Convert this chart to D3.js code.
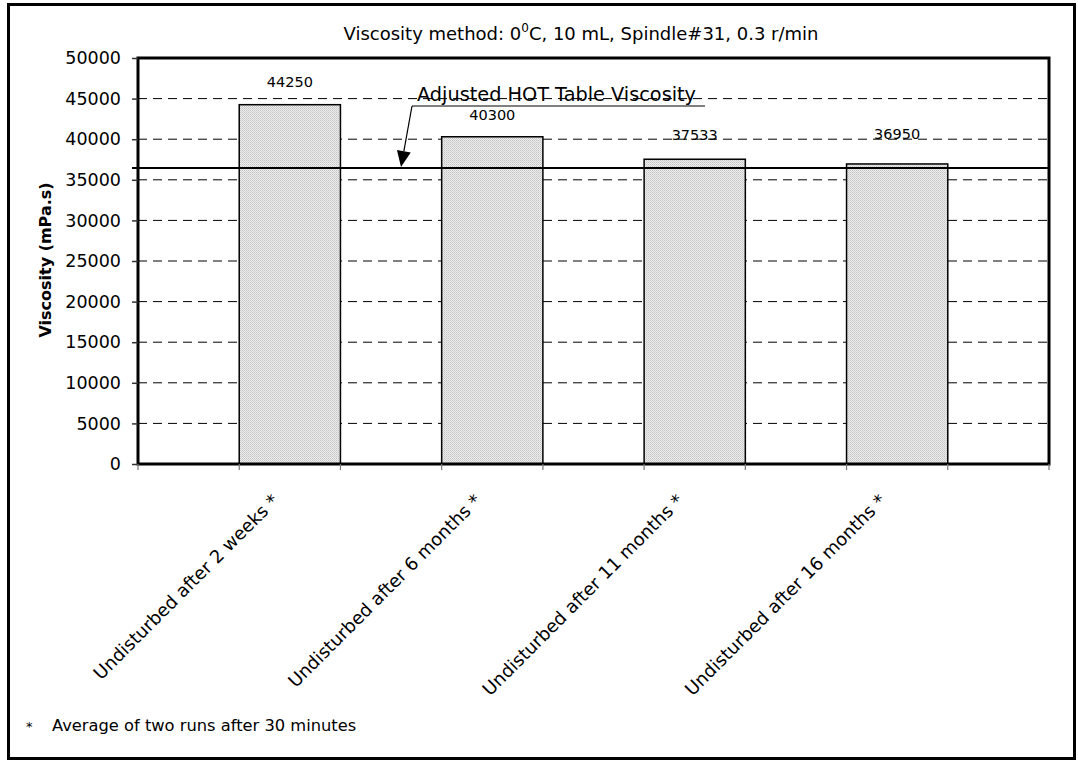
<!DOCTYPE html>
<html>
<head>
<meta charset="utf-8">
<script src="https://cdn.jsdelivr.net/npm/d3@7"></script>
<style>
  html, body { margin: 0; padding: 0; background: #fff; }
  svg { display: block; }
  text { font-family: "DejaVu Sans", Verdana, sans-serif; fill: #000; }
</style>
</head>
<body>
<svg id="chart" width="1078" height="761"></svg>
<script>
// ---- data ----
const categories = [
  "Undisturbed after 2 weeks *",
  "Undisturbed after 6 months *",
  "Undisturbed after 11 months *",
  "Undisturbed after 16 months *"
];
const values = [44250, 40300, 37533, 36950];
const referenceValue = 36450;
const referenceLabel = "Adjusted HOT Table Viscosity";
const yTicks = [0, 5000, 10000, 15000, 20000, 25000, 30000, 35000, 40000, 45000, 50000];
const yMax = 50000;
const yAxisTitle = "Viscosity (mPa.s)";
const footnote = "Average of two runs after 30 minutes";

// ---- layout ----
const W = 1078, H = 761;
const plot = { left: 138, top: 58, right: 1049, bottom: 464 };
const labelDy = [-18, -17, -19, -25];

const svg = d3.select("#chart");

// pattern for bars
const defs = svg.append("defs");
const pat = defs.append("pattern").attr("id", "dots")
  .attr("width", 2).attr("height", 2).attr("patternUnits", "userSpaceOnUse");
pat.append("rect").attr("width", 2).attr("height", 2).attr("fill", "#ececec");
pat.append("rect").attr("x", 0).attr("y", 0).attr("width", 1).attr("height", 1).attr("fill", "#c4c4c4");
pat.append("rect").attr("x", 1).attr("y", 1).attr("width", 1).attr("height", 1).attr("fill", "#d4d4d4");

// slots: blank spacer between each category (Excel-like layout)
const slots = [];
categories.forEach((c, i) => { slots.push("__gap" + i); slots.push(c); });
slots.push("__gap" + categories.length);

const x = d3.scaleBand().domain(slots).range([plot.left, plot.right]).padding(0);
const y = d3.scaleLinear().domain([0, yMax]).range([plot.bottom, plot.top]);

// outer border
svg.append("rect")
  .attr("x", 8.5).attr("y", 4.5).attr("width", 1066).attr("height", 754)
  .attr("fill", "none").attr("stroke", "#000").attr("stroke-width", 3);

// title
const title = svg.append("text")
  .attr("x", 581).attr("y", 40).attr("text-anchor", "middle")
  .style("font-size", "18px");
title.append("tspan").text("Viscosity method: 0");
title.append("tspan").attr("dy", -8).style("font-size", "12px").text("0");
title.append("tspan").attr("dy", 8).text("C, 10 mL, Spindle#31, 0.3 r/min");

// gridlines
svg.append("g")
  .selectAll("line")
  .data(yTicks.filter(t => t > 0 && t < yMax))
  .join("line")
  .attr("x1", plot.left).attr("x2", plot.right)
  .attr("y1", d => y(d)).attr("y2", d => y(d))
  .attr("stroke", "#000").attr("stroke-width", 1)
  .attr("stroke-dasharray", "9,6");

// bars
svg.append("g")
  .selectAll("rect")
  .data(values)
  .join("rect")
  .attr("x", (d, i) => x(categories[i]))
  .attr("y", d => y(d))
  .attr("width", x.bandwidth())
  .attr("height", d => y(0) - y(d))
  .attr("fill", "url(#dots)")
  .attr("stroke", "#000").attr("stroke-width", 1.5);

// value labels
svg.append("g")
  .selectAll("text")
  .data(values)
  .join("text")
  .attr("x", (d, i) => x(categories[i]) + x.bandwidth() / 2)
  .attr("y", (d, i) => y(d) + labelDy[i])
  .attr("text-anchor", "middle")
  .style("font-size", "14.5px")
  .text(d => d);

// reference line
svg.append("line")
  .attr("x1", plot.left - 6).attr("x2", plot.right)
  .attr("y1", y(referenceValue)).attr("y2", y(referenceValue))
  .attr("stroke", "#000").attr("stroke-width", 2);

// plot frame
svg.append("rect")
  .attr("x", plot.left).attr("y", plot.top)
  .attr("width", plot.right - plot.left).attr("height", plot.bottom - plot.top)
  .attr("fill", "none").attr("stroke", "#000").attr("stroke-width", 3);

// y axis ticks + labels
const yAxis = d3.axisLeft(y).tickValues(yTicks).tickSize(6).tickPadding(11)
  .tickFormat(d3.format("d"));
const yg = svg.append("g").attr("transform", `translate(${plot.left},0)`).call(yAxis);
yg.select(".domain").remove();
yg.selectAll(".tick line").attr("stroke", "#333").attr("stroke-width", 1.5);
yg.selectAll(".tick text").style("font-size", "17.5px").style("font-family", "'DejaVu Sans', sans-serif").attr("fill", "#000");

// x ticks at band boundaries
const bounds = slots.map(s => x(s)).concat([plot.right]);
svg.append("g").selectAll("line").data(bounds).join("line")
  .attr("x1", d => d).attr("x2", d => d)
  .attr("y1", plot.bottom).attr("y2", plot.bottom + 6)
  .attr("stroke", "#777").attr("stroke-width", 1.2);

// x labels rotated
svg.append("g").selectAll("text").data(categories).join("text")
  .attr("transform", d => `translate(${x(d) + x.bandwidth() / 2 - 10},${plot.bottom + 38}) rotate(-45)`)
  .attr("text-anchor", "end")
  .style("font-size", "18px")
  .text(d => d);

// y axis title
svg.append("text")
  .attr("transform", "translate(51,260) rotate(-90)")
  .attr("text-anchor", "middle")
  .style("font-size", "16px").style("font-weight", "bold")
  .text(yAxisTitle);

// annotation for reference line
const annX = 412, annY = 106;
svg.append("text")
  .attr("x", annX + 5).attr("y", annY - 5)
  .style("font-size", "19.3px")
  .text(referenceLabel);
svg.append("line")
  .attr("x1", annX).attr("x2", 705).attr("y1", annY).attr("y2", annY)
  .attr("stroke", "#000").attr("stroke-width", 1);
const tipX = 401, tipY = y(referenceValue) - 1;
const ang = Math.atan2(tipY - annY, tipX - annX);
const aLen = 16, aW = 7;
const bx = tipX - aLen * Math.cos(ang), by = tipY - aLen * Math.sin(ang);
svg.append("line")
  .attr("x1", annX).attr("y1", annY).attr("x2", bx).attr("y2", by)
  .attr("stroke", "#000").attr("stroke-width", 1.2);
svg.append("path")
  .attr("d", d3.line()([
    [tipX, tipY],
    [bx + aW * Math.sin(ang), by - aW * Math.cos(ang)],
    [bx - aW * Math.sin(ang), by + aW * Math.cos(ang)]
  ]) + "Z")
  .attr("fill", "#000");

// footnote
svg.append("text").attr("x", 26).attr("y", 731).style("font-size", "13px").text("*");
svg.append("text").attr("x", 52).attr("y", 731).style("font-size", "16.3px").text(footnote);
</script>
</body>
</html>
